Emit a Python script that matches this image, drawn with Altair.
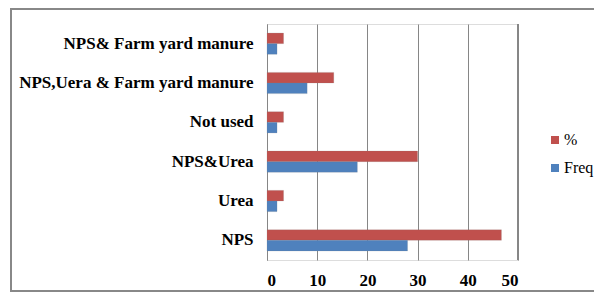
import altair as alt
import pandas as pd

categories = ["NPS& Farm yard manure", "NPS,Uera & Farm yard manure", "Not used",
              "NPS&Urea", "Urea", "NPS"]
freq = [2, 8, 2, 18, 2, 28]
pct = [3.3, 13.3, 3.3, 30, 3.3, 46.7]
series = ["%", "Freq"]
colors = ["#C0504D", "#4F81BD"]
ticks = [0, 10, 20, 30, 40, 50]

rows = []
for c, f, p in zip(categories, freq, pct):
    rows.append({"cat": c, "series": "%", "value": p})
    rows.append({"cat": c, "series": "Freq", "value": f})
df = pd.DataFrame(rows)

W, H = 251, 236
serif = "'Liberation Serif', 'Times New Roman', serif"

bars = alt.Chart(df).mark_bar(stroke="#7f7f7f", strokeWidth=0.3, strokeOpacity=0.6).encode(
    x=alt.X("value:Q", scale=alt.Scale(domain=[0, 50], nice=False),
            axis=alt.Axis(values=ticks, title=None, grid=True, gridColor="#868686",
                          gridWidth=1, domain=False, ticks=False, labelFont=serif,
                          labelFontWeight="bold", labelFontSize=17, labelColor="#000000",
                          labelPadding=12)),
    y=alt.Y("cat:N", sort=categories,
            scale=alt.Scale(paddingInner=0.46, paddingOuter=0.23),
            axis=alt.Axis(title=None, domain=True, domainColor="#868686", ticks=False,
                          labelFont=serif, labelFontWeight="bold", labelFontSize=17,
                          labelColor="#000000", labelPadding=14, labelLimit=400)),
    yOffset=alt.YOffset("series:N", sort=series),
    color=alt.Color("series:N", sort=series,
                    scale=alt.Scale(domain=series, range=colors),
                    legend=alt.Legend(title=None, orient="none", legendX=280, legendY=108,
                                      symbolType="square", symbolSize=64,
                                      symbolStrokeWidth=0, labelFont=serif,
                                      labelFontSize=16, labelColor="#000000",
                                      rowPadding=12, labelOffset=1, padding=0)),
)

frame_left = alt.Chart(df).mark_rule(color="#888888", strokeWidth=2).encode(
    x=alt.value(-256), y=alt.value(-15), y2=alt.value(267))
frame_top = alt.Chart(df).mark_rule(color="#888888", strokeWidth=2).encode(
    x=alt.value(-257), x2=alt.value(340), y=alt.value(-15))
frame_bottom = alt.Chart(df).mark_rule(color="#888888", strokeWidth=2).encode(
    x=alt.value(-257), x2=alt.value(340), y=alt.value(267))
right_line = alt.Chart(df).mark_rule(color="#868686", strokeWidth=1).encode(
    x=alt.value(W), y=alt.value(0), y2=alt.value(H))

chart = alt.layer(bars, right_line, frame_left, frame_top, frame_bottom).properties(
    width=W, height=H,
    autosize=alt.AutoSizeParams(type="none"),
    padding={"left": 259, "top": 16, "right": 76, "bottom": 32},
).configure_view(stroke=None).configure(background="white")

chart.save("out.html", embed_options={"renderer": "svg", "actions": False})
